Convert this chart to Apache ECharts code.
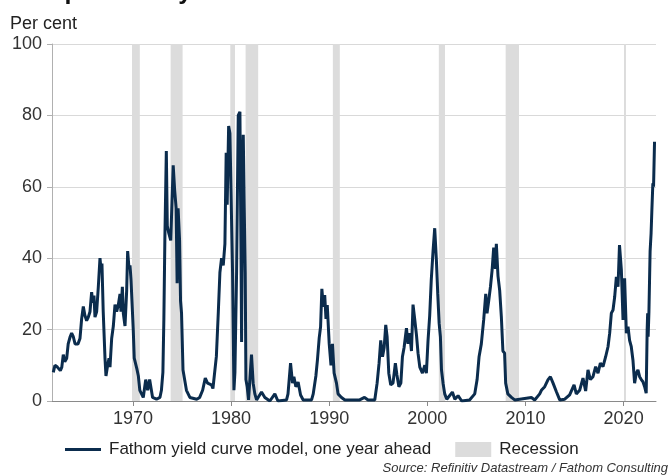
<!DOCTYPE html>
<html>
<head>
<meta charset="utf-8">
<script src="https://cdn.jsdelivr.net/npm/echarts@6/dist/echarts.min.js"></script>
<style>
  html, body { margin: 0; padding: 0; background: #fff; }
  #chart { width: 672px; height: 476px; }
</style>
</head>
<body>
<div id="chart"></div>
<script>
// decimal years and model probability (per cent)
var dates = [
  1961.88, 1962.05, 1962.3, 1962.6, 1962.75, 1962.9, 1963.05, 1963.25, 1963.4, 1963.6, 1963.75, 1963.92,
  1964.1, 1964.25, 1964.4, 1964.6, 1964.77, 1964.94, 1965.1, 1965.28, 1965.45, 1965.62, 1965.79, 1965.89,
  1966.03, 1966.13, 1966.3, 1966.47, 1966.64, 1966.74, 1966.84, 1966.97, 1967.15, 1967.25, 1967.42, 1967.56,
  1967.66, 1967.83, 1968.0, 1968.17, 1968.34, 1968.51, 1968.68, 1968.78, 1968.92, 1969.02, 1969.19, 1969.36,
  1969.46, 1969.6, 1969.7, 1969.8, 1969.93, 1970.03, 1970.13, 1970.4, 1970.55, 1970.7, 1971.05, 1971.3,
  1971.5, 1971.7, 1972.0, 1972.4, 1972.75, 1972.9, 1973.05, 1973.15, 1973.25, 1973.4, 1973.5, 1973.65,
  1973.85, 1974.1, 1974.25, 1974.4, 1974.5, 1974.6, 1974.75, 1974.85, 1974.95, 1975.1, 1975.45, 1975.8,
  1976.5, 1976.8, 1977.1, 1977.37, 1977.6, 1978.0, 1978.15, 1978.5, 1978.7, 1978.86, 1979.03, 1979.2,
  1979.37, 1979.5, 1979.6, 1979.75, 1979.88, 1980.05, 1980.15, 1980.29, 1980.39, 1980.56, 1980.73, 1980.9,
  1981.0, 1981.07, 1981.17, 1981.24, 1981.34, 1981.44, 1981.51, 1981.64, 1981.78, 1982.08, 1982.25, 1982.42,
  1982.6, 1983.1, 1983.44, 1983.95, 1984.46, 1984.77, 1985.65, 1985.8, 1986.06, 1986.26, 1986.4, 1986.6,
  1986.83, 1987.08, 1987.35, 1988.2, 1988.37, 1988.64, 1988.8, 1988.98, 1989.12, 1989.25, 1989.4, 1989.54,
  1989.67, 1989.8, 1990.0, 1990.18, 1990.33, 1990.5, 1990.74, 1990.9, 1991.25, 1991.6, 1993.1, 1993.6,
  1993.96, 1994.64, 1994.88, 1995.08, 1995.25, 1995.43, 1995.6, 1995.76, 1995.9, 1996.07, 1996.27, 1996.5,
  1996.74, 1996.9, 1997.1, 1997.3, 1997.46, 1997.63, 1997.87, 1998.03, 1998.2, 1998.38, 1998.54, 1998.72,
  1998.89, 1999.05, 1999.23, 1999.5, 1999.74, 1999.9, 2000.07, 2000.24, 2000.4, 2000.58, 2000.75, 2000.92,
  2001.06, 2001.2, 2001.33, 2001.44, 2001.6, 2001.77, 2001.98, 2002.55, 2002.8, 2003.13, 2003.5, 2004.3,
  2004.83, 2005.07, 2005.27, 2005.5, 2005.74, 2005.95, 2006.08, 2006.25, 2006.43, 2006.6, 2006.76, 2006.93,
  2007.03, 2007.2, 2007.37, 2007.54, 2007.7, 2007.87, 2007.98, 2008.2, 2008.57, 2008.9, 2010.6, 2010.94,
  2011.45, 2011.62, 2011.96, 2012.3, 2012.54, 2012.81, 2013.15, 2013.49, 2014.0, 2014.5, 2014.95, 2015.18,
  2015.52, 2015.86, 2016.13, 2016.37, 2016.61, 2016.88, 2017.15, 2017.39, 2017.63, 2017.9, 2018.17, 2018.41,
  2018.58, 2018.75, 2018.92, 2019.09, 2019.26, 2019.43, 2019.58, 2019.77, 2019.94, 2020.1, 2020.28, 2020.45,
  2020.61, 2020.78, 2020.95, 2021.12, 2021.29, 2021.46, 2021.63, 2021.8, 2021.97, 2022.14, 2022.3, 2022.4,
  2022.45, 2022.5, 2022.58, 2022.7, 2022.8, 2022.88, 2022.98, 2023.05, 2023.15
];
var probability = [
  8, 10, 9.5, 8.5, 9.5, 13, 11, 12, 16, 18, 19, 18,
  16, 16.5, 16, 17.5, 23, 26.5, 24, 22.5, 23.5, 25, 30.5, 27.5,
  29.5, 23.5, 25, 32, 40, 37, 38.5, 25, 12, 7, 10, 12,
  9.5, 17.5, 21, 27, 25, 27, 30, 25, 32, 24.5, 21, 31,
  42, 37, 38, 34, 33.5, 20, 12, 9, 7, 3, 1, 6,
  3, 6, 1, 0.5, 1, 3, 8, 23, 45, 70, 49, 47,
  45, 66, 59, 54, 33, 54, 45, 28, 24.6, 8.7, 3, 1,
  0.5, 1, 3, 6.4, 5, 4.5, 3.5, 12.5, 25, 36, 40, 38,
  44, 69.5, 55, 77, 75, 75, 36, 3, 8, 36, 80, 81,
  45, 16.5, 64, 74.6, 54, 36, 6, 4, 0.3, 13, 5, 2,
  0.3, 2.5, 1, 0, 2, 0, 0.3, 2, 10.6, 5, 6.8, 4,
  5.3, 1.7, 0.3, 0.3, 2, 7, 11.5, 17.7, 20.8, 31.4, 26.4, 29.7,
  23, 26.9, 16, 10, 16, 7.8, 5, 2, 1, 0.3, 0.3, 1,
  0.3, 0.3, 5, 10.6, 17, 12.4, 15, 21.3, 18, 7.8, 4.5, 5,
  10.6, 7.3, 4, 5, 12.4, 15, 20.4, 16, 19, 14, 27, 22.7,
  18.5, 13.4, 9.5, 7.8, 10, 7.8, 17, 24, 34, 42, 48.4, 39.5,
  30, 21.8, 18, 8.7, 5, 2, 0.5, 2.5, 0.5, 1.5, 0, 0.3,
  2, 6, 12.4, 16, 22.7, 30, 24.6, 28, 32, 36.7, 43, 37,
  44, 35, 31, 23.6, 14, 13.4, 5, 2, 1, 0.3, 1, 0.3,
  2, 3, 4, 6, 6.8, 5, 2.6, 0.3, 0.5, 1.7, 4.5, 2,
  3, 6.4, 2.8, 8.7, 6, 6.8, 9.6, 7.8, 10.6, 9.6, 12.4, 15.2,
  19, 24.6, 25.5, 29.2, 34.8, 32, 43.7, 36.7, 22.7, 34.4, 19, 20.8,
  17, 15.2, 11.5, 5, 7.8, 8.7, 6.8, 6, 5.4, 4, 2.2, 20,
  24.6, 18, 25, 42, 47, 53.5, 61, 60, 72.6
];
var recessionStart = [1969.9, 1973.84, 1979.92, 1981.48, 1990.37, 2001.17, 2007.98, 2020.04];
var recessionEnd   = [1970.7, 1975.06, 1980.4, 1982.76, 1991.08, 2001.8, 2009.34, 2020.24];
var yearTicks = [1970, 1980, 1990, 2000, 2010, 2020];

var font = '"Liberation Sans", Arial, sans-serif';
var chart = echarts.init(document.getElementById('chart'));

var lineData = dates.map(function (d, i) { return [d, probability[i]]; });
var bands = recessionStart.map(function (s, i) {
  return [{ xAxis: s }, { xAxis: recessionEnd[i] }];
});

chart.setOption({
  animation: false,
  textStyle: { fontFamily: font },
  grid: { left: 52, right: 16, top: 44, bottom: 75, containLabel: false },
  graphic: [
    {
      type: 'text', x: 13, y: 5,
      style: { text: 'The probability of a recession', font: 'bold 25px ' + font, fill: '#111', verticalAlign: 'bottom' }
    },
    {
      type: 'text', x: 10, y: 15,
      style: { text: 'Per cent', font: '18px ' + font, fill: '#222' }
    },
    {
      type: 'text', right: 4, top: 462,
      style: { text: 'Source: Refinitiv Datastream / Fathom Consulting', font: 'italic 13px ' + font, fill: '#333' }
    }
  ],
  legend: {
    left: 60, top: 436,
    itemWidth: 36, itemHeight: 15, itemGap: 24,
    textStyle: { fontSize: 17, color: '#222', fontFamily: font, padding: [0, 0, 0, 3] },
    data: [
      { name: 'Fathom yield curve model, one year ahead', icon: 'path://M0,0 L36,0 L36,3 L0,3 Z' },
      { name: 'Recession', icon: 'rect' }
    ]
  },
  xAxis: {
    type: 'value',
    min: 1961.75, max: 2023.3,
    axisLine: { lineStyle: { color: '#8a8a8a', width: 1 } },
    axisTick: { show: true, length: 5, customValues: yearTicks, lineStyle: { color: '#8a8a8a' } },
    axisLabel: {
      customValues: yearTicks, fontSize: 18, color: '#333', margin: 9, fontFamily: font,
      formatter: function (v) { return String(Math.round(v)); }
    },
    splitLine: { show: false }
  },
  yAxis: {
    type: 'value',
    min: 0, max: 100, interval: 20,
    axisLine: { show: true, lineStyle: { color: '#b0b0b0' } },
    axisTick: { show: true, length: 5, lineStyle: { color: '#b0b0b0' } },
    axisLabel: { fontSize: 18, color: '#333', margin: 10, fontFamily: font },
    splitLine: { lineStyle: { color: '#d9d9d9', width: 1 } }
  },
  series: [
    {
      name: 'Recession',
      type: 'line',
      data: [],
      itemStyle: { color: '#dcdcdc' },
      lineStyle: { color: '#dcdcdc' },
      markArea: { silent: true, itemStyle: { color: '#dcdcdc' }, data: bands },
      z: 1
    },
    {
      name: 'Fathom yield curve model, one year ahead',
      type: 'line',
      data: lineData,
      showSymbol: false,
      symbol: 'none',
      lineStyle: { color: '#0b2c4d', width: 3 },
      itemStyle: { color: '#0b2c4d' },
      z: 3
    }
  ]
});
</script>
</body>
</html>
